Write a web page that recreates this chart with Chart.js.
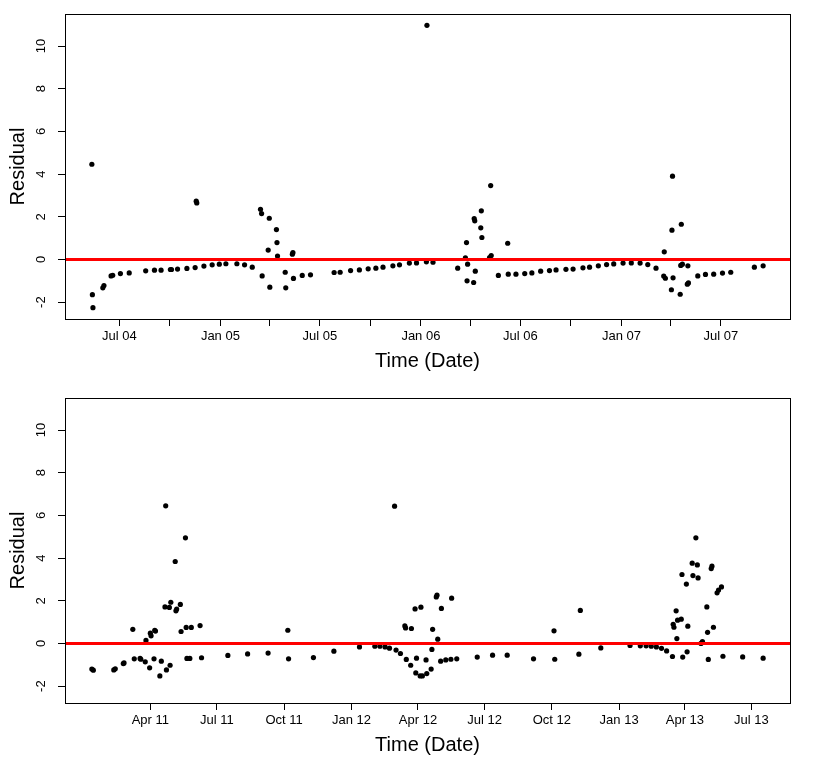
<!DOCTYPE html>
<html>
<head>
<meta charset="utf-8">
<script src="https://cdn.jsdelivr.net/npm/chart.js@4.4.1/dist/chart.umd.min.js"></script>
<style>
  html, body { margin: 0; padding: 0; background: #fff; }
  canvas { display: block; }
</style>
</head>
<body>
<canvas id="topChart" width="830" height="383"></canvas>
<canvas id="bottomChart" width="830" height="384"></canvas>
<script>
// ---------------------------
// data: 2004-2007 period
// ---------------------------
const datesA = [
  '2004-05-12','2004-05-13','2004-05-14','2004-06-01','2004-06-03','2004-06-16','2004-06-19','2004-07-03',
  '2004-07-19','2004-08-18','2004-09-03','2004-09-15','2004-10-02','2004-10-04','2004-10-15','2004-11-01',
  '2004-11-16','2004-11-18','2004-11-19','2004-12-02','2004-12-17','2004-12-30','2005-01-11','2005-01-31',
  '2005-02-14','2005-02-28','2005-03-15','2005-03-17','2005-03-18','2005-03-29','2005-03-31','2005-04-01',
  '2005-04-13','2005-04-14','2005-04-15','2005-04-29','2005-04-30','2005-05-12','2005-05-13','2005-05-14',
  '2005-05-30','2005-06-14','2005-07-27','2005-08-07','2005-08-26','2005-09-11','2005-09-27','2005-10-11',
  '2005-10-24','2005-11-11','2005-11-23','2005-12-11','2005-12-24','2006-01-11','2006-01-12','2006-01-23',
  '2006-03-09','2006-03-23','2006-03-25','2006-03-26','2006-03-27','2006-04-07','2006-04-08','2006-04-09',
  '2006-04-10','2006-04-20','2006-04-21','2006-04-22','2006-05-06','2006-05-08','2006-05-09','2006-05-22',
  '2006-06-08','2006-06-09','2006-06-23','2006-07-09','2006-07-22','2006-08-07','2006-08-23','2006-09-04',
  '2006-09-22','2006-10-05','2006-10-23','2006-11-04','2006-11-20','2006-12-05','2006-12-18','2007-01-04',
  '2007-01-19','2007-02-04','2007-02-18','2007-03-05','2007-03-19','2007-03-20','2007-03-22','2007-04-02',
  '2007-04-03','2007-04-04','2007-04-05','2007-04-18','2007-04-19','2007-04-20','2007-04-22','2007-05-01',
  '2007-05-02','2007-05-03','2007-05-20','2007-06-03','2007-06-18','2007-07-04','2007-07-19','2007-08-31',
  '2007-09-16'
];
const residA = [
  4.46, -1.65, -2.26, -1.33, -1.22, -0.77, -0.74, -0.66,
  -0.63, -0.53, -0.50, -0.50, -0.47, -0.47, -0.45, -0.42,
  -0.38, 2.73, 2.65, -0.31, -0.25, -0.22, -0.20, -0.20,
  -0.25, -0.36, 2.35, 2.15, -0.77, 0.44, 1.93, -1.30,
  1.40, 0.79, 0.16, -0.60, -1.33, 0.25, 0.32, -0.89,
  -0.75, -0.72, -0.61, -0.60, -0.52, -0.49, -0.44, -0.41,
  -0.36, -0.30, -0.25, -0.17, -0.16, -0.11, 10.97, -0.13,
  -0.41, 0.07, 0.79, -1.00, -0.22, -1.08, 1.92, 1.81,
  -0.55, 1.48, 2.28, 1.03, 0.09, 3.46, 0.18, -0.75,
  0.76, -0.69, -0.69, -0.66, -0.63, -0.55, -0.52, -0.49,
  -0.46, -0.45, -0.39, -0.36, -0.30, -0.24, -0.21, -0.17,
  -0.16, -0.17, -0.24, -0.41, -0.78, 0.36, -0.88, -1.42,
  1.37, 3.90, -0.86, -1.63, -0.28, 1.65, -0.22, -1.16,
  -0.30, -1.10, -0.77, -0.70, -0.69, -0.64, -0.60, -0.36,
  -0.30
];
const tickDatesA = [
  '2004-07-01','2004-10-01','2005-01-01','2005-04-01','2005-07-01','2005-10-01','2006-01-01',
  '2006-04-01','2006-07-01','2006-10-01','2007-01-01','2007-04-01','2007-07-01'
];
const tickLabelsA = ['Jul 04','','Jan 05','','Jul 05','','Jan 06','','Jul 06','','Jan 07','','Jul 07'];

// ---------------------------
// data: 2011-2013 period
// ---------------------------
const datesB = [
  '2011-01-11','2011-01-13','2011-02-10','2011-02-12','2011-02-23','2011-02-24','2011-03-08','2011-03-10',
  '2011-03-18','2011-03-19','2011-03-25','2011-03-26','2011-03-31','2011-04-01','2011-04-02','2011-04-06',
  '2011-04-07','2011-04-08','2011-04-14','2011-04-16','2011-04-21','2011-04-22','2011-04-23','2011-04-27',
  '2011-04-28','2011-04-29','2011-05-05','2011-05-06','2011-05-07','2011-05-12','2011-05-13','2011-05-19',
  '2011-05-20','2011-05-21','2011-05-25','2011-05-27','2011-06-08','2011-06-10','2011-07-16','2011-08-12',
  '2011-09-09','2011-10-06','2011-10-07','2011-11-10','2011-12-08','2012-01-12','2012-02-02','2012-02-09',
  '2012-02-16','2012-02-22','2012-02-29','2012-03-02','2012-03-08','2012-03-14','2012-03-15','2012-03-16',
  '2012-03-22','2012-03-23','2012-03-28','2012-03-29','2012-03-30','2012-04-04','2012-04-05','2012-04-07',
  '2012-04-12','2012-04-13','2012-04-19','2012-04-20','2012-04-21','2012-04-26','2012-04-27','2012-04-28',
  '2012-05-02','2012-05-03','2012-05-09','2012-05-16','2012-05-17','2012-05-24','2012-06-21','2012-07-12',
  '2012-08-01','2012-09-06','2012-10-04','2012-10-05','2012-11-07','2012-11-09','2012-12-07','2013-01-16',
  '2013-01-30','2013-02-07','2013-02-14','2013-02-21','2013-02-28','2013-03-07','2013-03-15','2013-03-16',
  '2013-03-17','2013-03-20','2013-03-21','2013-03-22','2013-03-27','2013-03-28','2013-03-29','2013-04-03',
  '2013-04-04','2013-04-05','2013-04-11','2013-04-12','2013-04-16','2013-04-18','2013-04-19','2013-04-23',
  '2013-04-25','2013-05-01','2013-05-02','2013-05-03','2013-05-07','2013-05-08','2013-05-10','2013-05-15',
  '2013-05-17','2013-05-21','2013-05-23','2013-06-19','2013-07-17'
];
const residB = [
  -1.20, -1.25, -1.24, -1.19, -0.94, -0.91, 0.66, -0.72,
  -0.70, -0.74, -0.86, 0.14, -1.14, 0.48, 0.36, -0.72,
  0.62, 0.58, -1.52, -0.83, 1.71, 6.45, -1.24, 1.69,
  -1.02, 1.93, 3.84, 1.53, 1.61, 1.83, 0.56, 4.95,
  0.75, -0.70, -0.70, 0.75, 0.84, -0.67, -0.56, -0.49,
  -0.45, 0.62, -0.72, -0.66, -0.36, -0.16, -0.13, -0.13,
  -0.16, -0.22, 6.43, -0.31, -0.47, 0.82, 0.73, -0.75,
  -1.02, 0.70, 1.62, -1.38, -0.69, -1.52, 1.70, -1.52,
  -0.77, -1.41, -1.20, -0.28, 0.66, 2.18, 2.26, 0.20,
  -0.83, 1.64, -0.77, -0.74, 2.12, -0.72, -0.64, -0.55,
  -0.55, -0.72, 0.59, -0.74, -0.50, 1.55, -0.21, -0.09,
  -0.11, -0.11, -0.13, -0.16, -0.23, -0.35, -0.61, 0.90,
  0.76, 1.53, 0.23, 1.09, 1.14, 3.23, -0.64, 2.78,
  -0.39, 0.81, 3.76, 3.18, 4.95, 3.68, 3.07, 0.00,
  0.09, 1.71, 0.52, -0.75, 3.51, 3.62, 0.76, 2.37,
  2.50, 2.65, -0.60, -0.63, -0.69
];
const tickDatesB = [
  '2011-04-01','2011-07-01','2011-10-01','2012-01-01','2012-04-01',
  '2012-07-01','2012-10-01','2013-01-01','2013-04-01','2013-07-01'
];
const tickLabelsB = ['Apr 11','Jul 11','Oct 11','Jan 12','Apr 12','Jul 12','Oct 12','Jan 13','Apr 13','Jul 13'];

const yTickValues = [-2, 0, 2, 4, 6, 8, 10];
const FONT = '"Liberation Sans", Arial, Helvetica, sans-serif';

// day number from 'YYYY-MM-DD'
function toDay(s) {
  const [y, m, d] = s.split('-').map(Number);
  return Date.UTC(y, m - 1, d) / 86400000;
}

// R-like 4% range expansion
function expand(lo, hi) {
  const pad = 0.04 * (hi - lo);
  return [lo - pad, hi + pad];
}

const allResid = residA.concat(residB);
const [yMin, yMax] = expand(Math.min(...allResid), Math.max(...allResid));

// box, rotated y labels and axis titles
const framePlugin = {
  id: 'frame',
  afterDraw(chart) {
    const { ctx, chartArea: a } = chart;
    const yScale = chart.scales.y;
    ctx.save();
    ctx.strokeStyle = '#000';
    ctx.lineWidth = 1;
    ctx.strokeRect(Math.round(a.left) + 0.5, Math.round(a.top) + 0.5,
      Math.round(a.right - a.left), Math.round(a.bottom - a.top));
    ctx.fillStyle = '#000';
    ctx.textAlign = 'center';
    ctx.textBaseline = 'middle';
    ctx.font = '13px ' + FONT;
    yTickValues.forEach(v => {
      ctx.save();
      ctx.translate(a.left - 24, yScale.getPixelForValue(v));
      ctx.rotate(-Math.PI / 2);
      ctx.fillText(String(v), 0, 0);
      ctx.restore();
    });
    ctx.font = '20px ' + FONT;
    ctx.save();
    ctx.translate(18, (a.top + a.bottom) / 2);
    ctx.rotate(-Math.PI / 2);
    ctx.fillText('Residual', 0, 0);
    ctx.restore();
    ctx.fillText('Time (Date)', (a.left + a.right) / 2, a.bottom + 42);
    ctx.restore();
  }
};

function makePanel(id, dates, resid, tickDates, tickLabels, padTop) {
  const points = dates.map((d, i) => ({ x: toDay(d), y: resid[i] }));
  const days = points.map(p => p.x);
  const [xMin, xMax] = expand(Math.min(...days), Math.max(...days));
  const tickDays = tickDates.map(toDay);
  const canvas = document.getElementById(id);

  return new Chart(canvas, {
    type: 'scatter',
    data: {
      datasets: [
        {
          data: points,
          pointRadius: 2.6,
          pointBackgroundColor: '#000',
          pointBorderWidth: 0,
          order: 1
        },
        {
          type: 'line',
          data: [{ x: xMin, y: 0 }, { x: xMax, y: 0 }],
          borderColor: '#ff0000',
          borderWidth: 3,
          pointRadius: 0,
          order: 0
        }
      ]
    },
    options: {
      responsive: false,
      animation: false,
      layout: { padding: { left: 0, top: padTop, right: 40, bottom: 0 } },
      plugins: { legend: { display: false }, tooltip: { enabled: false } },
      scales: {
        x: {
          type: 'linear',
          min: xMin,
          max: xMax,
          afterBuildTicks: s => { s.ticks = tickDays.map(v => ({ value: v })); },
          afterFit: s => { s.height = canvas.height - padTop - 305; },
          ticks: {
            autoSkip: false,
            maxRotation: 0,
            minRotation: 0,
            color: '#000',
            padding: 3,
            font: { family: FONT, size: 13 },
            callback: (v, i) => tickLabels[i]
          },
          grid: { drawOnChartArea: false, drawTicks: true, tickLength: 7, color: '#000' },
          border: { display: false }
        },
        y: {
          min: yMin,
          max: yMax,
          afterBuildTicks: s => { s.ticks = yTickValues.map(v => ({ value: v })); },
          afterFit: s => { s.width = 65; },
          ticks: { display: false },
          grid: { drawOnChartArea: false, drawTicks: true, tickLength: 7, color: '#000' },
          border: { display: false }
        }
      }
    },
    plugins: [framePlugin]
  });
}

makePanel('topChart', datesA, residA, tickDatesA, tickLabelsA, 14);
makePanel('bottomChart', datesB, residB, tickDatesB, tickLabelsB, 15);
</script>
</body>
</html>
